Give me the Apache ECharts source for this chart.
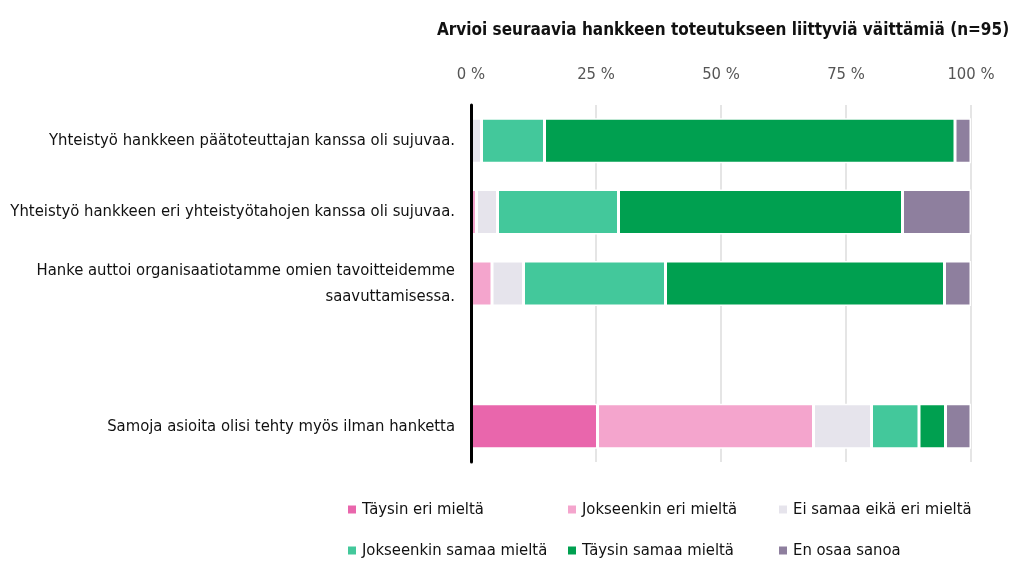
<!DOCTYPE html>
<html>
<head>
<meta charset="utf-8">
<script src="https://cdn.jsdelivr.net/npm/echarts@6/dist/echarts.min.js"></script>
<style>
    html, body { margin: 0; padding: 0; background: #fff; }
    #chart { width: 1011px; height: 564px; }
</style>
</head>
<body>
<div id="chart"></div>
<script>
// väittämät (tyhjä rivi = väli ennen viimeistä palkkia)
const statements = [
    'Yhteistyö hankkeen päätoteuttajan kanssa oli sujuvaa.',
    'Yhteistyö hankkeen eri yhteistyötahojen kanssa oli sujuvaa.',
    'Hanke auttoi organisaatiotamme omien tavoitteidemme\nsaavuttamisessa.',
    '',
    'Samoja asioita olisi tehty myös ilman hanketta'
]
const answerNames = [
    'Täysin eri mieltä',
    'Jokseenkin eri mieltä',
    'Ei samaa eikä eri mieltä',
    'Jokseenkin samaa mieltä',
    'Täysin samaa mieltä',
    'En osaa sanoa'
]
// osuudet prosentteina, yksi taulukko per vastausvaihtoehto
const taysinEri = [0, 0, 0, null, 25.3]
const jokseenkinEri = [0, 1.1, 4.2, null, 43.2]
const eiSamaaEikaEri = [2.1, 4.2, 6.3, null, 11.6]
const jokseenkinSamaa = [12.6, 24.2, 28.4, null, 9.5]
const taysinSamaa = [82.1, 56.8, 55.8, null, 5.3]
const enOsaa = [3.2, 13.7, 5.3, null, 5.1]
const tickValues = [0, 25, 50, 75, 100]

const colors = ['#e966ac', '#f4a5cd', '#e6e4ec', '#43c89b', '#00a050', '#8e7f9e']
const seriesData = [taysinEri, jokseenkinEri, eiSamaaEikaEri, jokseenkinSamaa, taysinSamaa, enOsaa]

const font = "'Liberation Sans Narrow', 'DejaVu Sans Condensed', 'Roboto', sans-serif"

const chart = echarts.init(document.getElementById('chart'))

// legenda 3 sarakkeessa, 2 riviä
const legendCols = [346, 566, 777]
const legendRows = [501, 542]
const legends = answerNames.map((name, i) => ({
    data: [name],
    left: legendCols[i % 3],
    top: legendRows[Math.floor(i / 3)],
    icon: 'rect',
    itemWidth: 10,
    itemHeight: 10,
    itemGap: 8,
    padding: 0,
    selectedMode: false,
    textStyle: { fontFamily: font, fontSize: 16.5, color: '#111' }
}))

const option = {
    animation: false,
    title: {
        text: 'Arvioi seuraavia hankkeen toteutukseen liittyviä väittämiä (n=95)',
        left: 718,
        top: 17,
        textAlign: 'center',
        textStyle: { fontFamily: font, fontSize: 17, fontWeight: 'bold', color: '#111' }
    },
    legend: legends,
    grid: {
        left: 471,
        right: 40,
        top: 105,
        bottom: 102,
        outerBoundsMode: 'none'
    },
    xAxis: {
        type: 'value',
        position: 'top',
        min: tickValues[0],
        max: tickValues[tickValues.length - 1],
        interval: 25,
        axisLine: { show: false },
        axisTick: { show: false },
        axisLabel: {
            formatter: '{value} %',
            fontFamily: font,
            fontSize: 16.5,
            color: '#555',
            margin: 22
        },
        splitLine: { lineStyle: { color: '#dcdcdc', width: 1.5 } }
    },
    yAxis: {
        type: 'category',
        inverse: true,
        data: statements,
        z: 5,
        axisLine: { lineStyle: { color: '#000', width: 3 } },
        axisTick: { show: false },
        axisLabel: {
            fontFamily: font,
            fontSize: 16.5,
            color: '#111',
            margin: 16,
            lineHeight: 26,
            align: 'right'
        }
    },
    series: answerNames.map((name, i) => ({
        name: name,
        type: 'bar',
        stack: 'total',
        barWidth: '63%',
        data: seriesData[i].map(v => (v === 0 ? null : v)),
        itemStyle: {
            color: colors[i],
            borderColor: '#fff',
            borderWidth: 1.5
        }
    }))
}

chart.setOption(option)
</script>
</body>
</html>
